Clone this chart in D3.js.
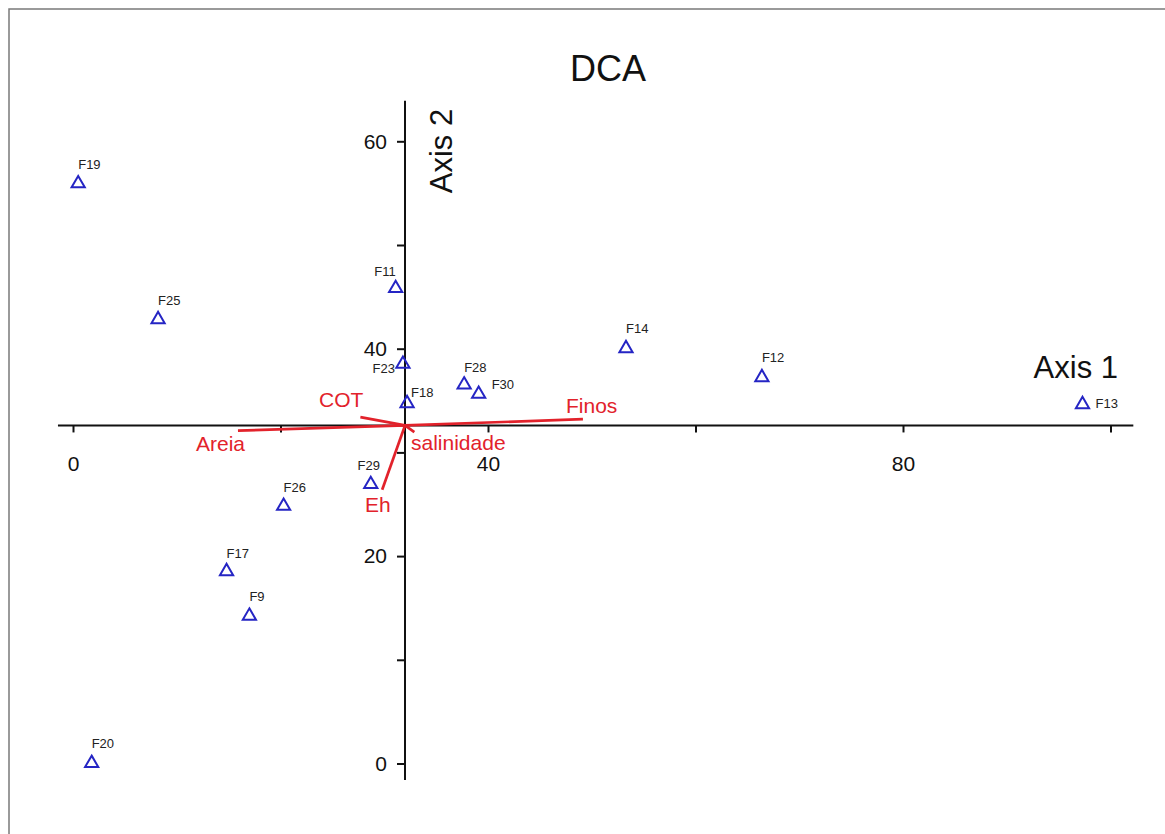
<!DOCTYPE html>
<html>
<head>
<meta charset="utf-8">
<script src="https://cdn.jsdelivr.net/npm/d3@7"></script>
<style>
  html, body { margin: 0; padding: 0; background: #fff; }
  svg { display: block; font-family: "Liberation Sans", Arial, sans-serif; }
</style>
</head>
<body>
<svg id="chart" width="1165" height="834"></svg>
<script>
// DCA ordination scores of the sampling stations (axis 1, axis 2)
const stations = ["F19", "F25", "F11", "F23", "F18", "F28", "F30", "F14", "F12", "F13", "F29", "F26", "F17", "F9", "F20"];
const axis1Scores = [0.5, 8.2, 31.1, 31.8, 32.2, 37.7, 39.1, 53.3, 66.4, 97.3, 28.7, 20.3, 14.8, 17.0, 1.8];
const axis2Scores = [56.1, 43.0, 46.0, 38.7, 34.9, 36.7, 35.8, 40.2, 37.4, 34.8, 27.1, 25.0, 18.7, 14.4, 0.2];

// Environmental variables fitted as vectors: tip coordinates on the ordination axes
const variables = ["Areia", "Finos", "COT", "Eh", "salinidade"];
const varAxis1 = [15.9, 49.15, 27.7, 29.8, 32.9];
const varAxis2 = [32.1, 33.2, 33.4, 26.4, 31.95];

// Axis crossing point (vector origin) and axis ticks
const crossing = [32.0, 32.6];
const xTicks = [0, 20, 40, 60, 80, 100];
const xTickLabels = ["0", "", "40", "", "80", ""];
const yTicks = [0, 10, 20, 30, 40, 50, 60];
const yTickLabels = ["0", "", "20", "", "40", "", "60"];
const xAxisExtent = [-1.45, 102.2];
const yAxisExtent = [-1.6, 63.9];

// Label placement around each station symbol
const stationLabelPos = {
  F19: { dx: 0, dy: -13, anchor: "start" },
  F25: { dx: 0, dy: -13, anchor: "start" },
  F11: { dx: 0, dy: -10, anchor: "end" },
  F23: { dx: -8, dy: 11, anchor: "end" },
  F18: { dx: 4, dy: -5, anchor: "start" },
  F28: { dx: 0, dy: -11, anchor: "start" },
  F30: { dx: 13, dy: -3, anchor: "start" },
  F14: { dx: 0, dy: -14, anchor: "start" },
  F12: { dx: 0, dy: -14, anchor: "start" },
  F13: { dx: 13, dy: 5, anchor: "start" },
  F29: { dx: -2, dy: -12, anchor: "middle" },
  F26: { dx: 0, dy: -12, anchor: "start" },
  F17: { dx: 0, dy: -12, anchor: "start" },
  F9: { dx: 0, dy: -13, anchor: "start" },
  F20: { dx: 0, dy: -13, anchor: "start" }
};
const variableLabelPos = {
  Areia: { x: 196, y: 451, anchor: "start" },
  Finos: { x: 566, y: 413, anchor: "start" },
  COT: { x: 319, y: 407, anchor: "start" },
  Eh: { x: 365, y: 512, anchor: "start" },
  salinidade: { x: 411, y: 450, anchor: "start" }
};

const svg = d3.select("#chart");
const ink = "#111";
const red = "#e2222b";
const blue = "#2525c4";

const x = d3.scaleLinear().domain([0, 100]).range([73, 1110.5]);
const y = d3.scaleLinear().domain([0, 60]).range([763.5, 141.3]);

// frame
svg.append("path")
  .attr("d", "M9,834 L9,9 L1200,9")
  .attr("fill", "none")
  .attr("stroke", "#7a7a7a")
  .attr("stroke-width", 1.5);

// title
svg.append("text")
  .attr("x", 608).attr("y", 81)
  .attr("text-anchor", "middle")
  .attr("font-size", 36)
  .attr("fill", ink)
  .text("DCA");

// horizontal axis through the crossing point
const yCross = y(crossing[1]);
const xCross = x(crossing[0]);

svg.append("line")
  .attr("x1", x(xAxisExtent[0])).attr("x2", x(xAxisExtent[1]))
  .attr("y1", yCross).attr("y2", yCross)
  .attr("stroke", ink).attr("stroke-width", 2);

const xAxis = d3.axisBottom(x)
  .tickValues(xTicks)
  .tickSize(7)
  .tickPadding(24)
  .tickFormat((d, i) => xTickLabels[i]);

const gx = svg.append("g")
  .attr("transform", `translate(0,${yCross})`)
  .call(xAxis);
gx.select(".domain").remove();
gx.selectAll(".tick line").attr("stroke", ink).attr("stroke-width", 2);
gx.selectAll(".tick text")
  .attr("font-size", 21)
  .attr("font-family", "'Liberation Sans', Arial, sans-serif")
  .attr("fill", ink);

// vertical axis through the crossing point
svg.append("line")
  .attr("x1", xCross).attr("x2", xCross)
  .attr("y1", y(yAxisExtent[0])).attr("y2", y(yAxisExtent[1]))
  .attr("stroke", ink).attr("stroke-width", 2);

const yAxis = d3.axisLeft(y)
  .tickValues(yTicks)
  .tickSize(8)
  .tickPadding(10)
  .tickFormat((d, i) => yTickLabels[i]);

const gy = svg.append("g")
  .attr("transform", `translate(${xCross},0)`)
  .call(yAxis);
gy.select(".domain").remove();
gy.selectAll(".tick line").attr("stroke", ink).attr("stroke-width", 2);
gy.selectAll(".tick text")
  .attr("font-size", 21)
  .attr("font-family", "'Liberation Sans', Arial, sans-serif")
  .attr("fill", ink);

// axis titles
svg.append("text")
  .attr("transform", `translate(${xCross + 47},151) rotate(-90)`)
  .attr("text-anchor", "middle")
  .attr("font-size", 31)
  .attr("fill", ink)
  .text("Axis 2");

svg.append("text")
  .attr("x", 1118).attr("y", 378)
  .attr("text-anchor", "end")
  .attr("font-size", 31)
  .attr("fill", ink)
  .text("Axis 1");

// environmental vectors
const vecData = variables.map((v, i) => ({ name: v, vx: varAxis1[i], vy: varAxis2[i] }));
svg.append("g").selectAll("line")
  .data(vecData)
  .join("line")
  .attr("x1", xCross).attr("y1", yCross)
  .attr("x2", d => x(d.vx)).attr("y2", d => y(d.vy))
  .attr("stroke", red)
  .attr("stroke-width", 2.7)
  .attr("stroke-linecap", "butt");

svg.append("g").selectAll("text")
  .data(vecData)
  .join("text")
  .attr("x", d => variableLabelPos[d.name].x)
  .attr("y", d => variableLabelPos[d.name].y)
  .attr("text-anchor", d => variableLabelPos[d.name].anchor)
  .attr("font-size", 21)
  .attr("fill", red)
  .text(d => d.name);

// station symbols
const ptData = stations.map((s, i) => ({ name: s, a1: axis1Scores[i], a2: axis2Scores[i] }));
const tri = "M0,-5.8 L6.6,5.6 L-6.6,5.6 Z";

const pts = svg.append("g").selectAll("g")
  .data(ptData)
  .join("g")
  .attr("transform", d => `translate(${x(d.a1)},${y(d.a2)})`);

pts.append("path")
  .attr("d", tri)
  .attr("fill", "none")
  .attr("stroke", blue)
  .attr("stroke-width", 2)
  .attr("stroke-linejoin", "miter");

pts.append("text")
  .attr("x", d => stationLabelPos[d.name].dx)
  .attr("y", d => stationLabelPos[d.name].dy)
  .attr("text-anchor", d => stationLabelPos[d.name].anchor)
  .attr("font-size", 13)
  .attr("fill", "#222")
  .text(d => d.name);
</script>
</body>
</html>
